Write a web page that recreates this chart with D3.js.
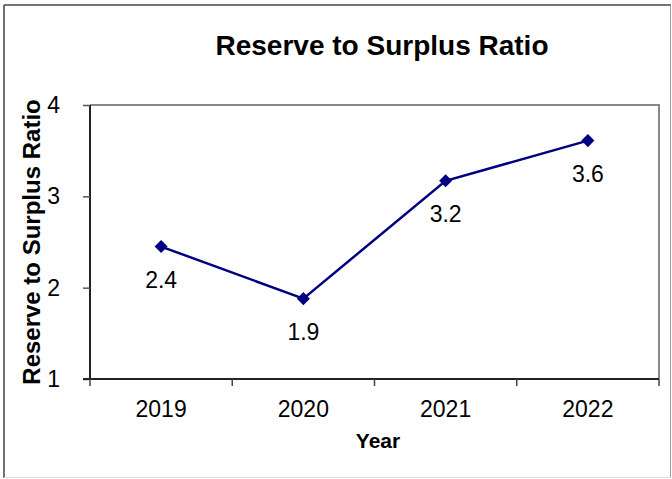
<!DOCTYPE html>
<html>
<head>
<meta charset="utf-8">
<script src="https://cdn.jsdelivr.net/npm/d3@7"></script>
<style>
  body { margin: 0; background: #fff; }
  text { font-family: "Liberation Sans", Arial, sans-serif; fill: #000; }
</style>
</head>
<body>
<script>
// chart data
var years = ["2019", "2020", "2021", "2022"];
var ratios = [2.45, 1.88, 3.17, 3.61];
var ratioLabels = ["2.4", "1.9", "3.2", "3.6"];
var yTicks = [1, 2, 3, 4];

var width = 672,
    height = 479;

// plot area
var plotLeft = 90, plotRight = 659, plotTop = 105, plotBottom = 379;

var svg = d3.select("body")
      .append("svg")
      .attr("width", width)
      .attr("height", height);

// outer frame
svg.append("line").attr("x1", 4).attr("y1", 5).attr("x2", 4).attr("y2", 478)
    .attr("stroke", "#444").attr("stroke-width", 1.5);
svg.append("line").attr("x1", 4).attr("y1", 5).attr("x2", 671).attr("y2", 5)
    .attr("stroke", "#444").attr("stroke-width", 1.5);
svg.append("line").attr("x1", 670.5).attr("y1", 5).attr("x2", 670.5).attr("y2", 478)
    .attr("stroke", "#999").attr("stroke-width", 1);
svg.append("line").attr("x1", 4).attr("y1", 477.5).attr("x2", 671).attr("y2", 477.5)
    .attr("stroke", "#ddd").attr("stroke-width", 1);

//scales
var x = d3.scaleBand()
      .domain(years)
      .range([plotLeft, plotRight]);

var y = d3.scaleLinear()
      .domain([1, 4])
      .range([plotBottom, plotTop]);

// plot border (top + right)
svg.append("path")
    .attr("d", "M" + plotLeft + "," + plotTop + "H" + plotRight + "V" + plotBottom)
    .attr("fill", "none")
    .attr("stroke", "#888")
    .attr("stroke-width", 2);

// y axis
var yAxis = svg.append("g")
      .attr("transform", "translate(" + plotLeft + ",0)")
      .call(d3.axisLeft(y).tickValues(yTicks).tickSize(7).tickPadding(23).tickFormat(d3.format("d")));
yAxis.select(".domain").attr("stroke", "#222").attr("stroke-width", 2).attr("d", "M0," + plotTop + "V" + plotBottom);
yAxis.selectAll(".tick line").attr("stroke", "#555").attr("stroke-width", 1.5);
yAxis.selectAll(".tick text")
    .style("font-family", "Liberation Sans, Arial, sans-serif")
    .style("font-size", "23px")
    .attr("fill", "#000");

// x axis, ticks at category boundaries
var xAxis = svg.append("g")
      .attr("transform", "translate(0," + plotBottom + ")");
xAxis.append("line")
    .attr("x1", plotLeft - 7).attr("x2", plotRight)
    .attr("stroke", "#222").attr("stroke-width", 2);
var bounds = years.map(function(d) { return x(d); }).concat([x(years[years.length - 1]) + x.bandwidth()]);
xAxis.selectAll(".xtick")
    .data(bounds)
    .enter()
    .append("line")
    .attr("class", "xtick")
    .attr("x1", function(d) { return d; })
    .attr("x2", function(d) { return d; })
    .attr("y1", 0).attr("y2", 7)
    .attr("stroke", "#444").attr("stroke-width", 1.5);
xAxis.selectAll(".xlabel")
    .data(years)
    .enter()
    .append("text")
    .attr("class", "xlabel")
    .attr("x", function(d) { return x(d) + x.bandwidth() / 2; })
    .attr("y", 38)
    .attr("text-anchor", "middle")
    .style("font-size", "23px")
    .text(function(d) { return d; });

// line
var line = d3.line()
      .x(function(d, i) { return x(years[i]) + x.bandwidth() / 2; })
      .y(function(d) { return y(d); });

svg.append("path")
    .datum(ratios)
    .attr("d", line)
    .attr("fill", "none")
    .attr("stroke", "#000080")
    .attr("stroke-width", 2.5);

// diamond markers
svg.selectAll(".marker")
    .data(ratios)
    .enter()
    .append("path")
    .attr("class", "marker")
    .attr("d", d3.symbol().type(d3.symbolSquare).size(85))
    .attr("transform", function(d, i) {
      return "translate(" + (x(years[i]) + x.bandwidth() / 2) + "," + y(d) + ") rotate(45)";
    })
    .attr("fill", "#000080");

// value labels
svg.selectAll(".vlabel")
    .data(ratios)
    .enter()
    .append("text")
    .attr("class", "vlabel")
    .attr("x", function(d, i) { return x(years[i]) + x.bandwidth() / 2; })
    .attr("y", function(d) { return y(d) + 41; })
    .attr("text-anchor", "middle")
    .style("font-size", "23px")
    .text(function(d, i) { return ratioLabels[i]; });

// titles
svg.append("text")
    .attr("x", 382)
    .attr("y", 55)
    .attr("text-anchor", "middle")
    .style("font-size", "28px")
    .style("font-weight", "bold")
    .text("Reserve to Surplus Ratio");

svg.append("text")
    .attr("x", 378)
    .attr("y", 448)
    .attr("text-anchor", "middle")
    .style("font-size", "21px")
    .style("font-weight", "bold")
    .text("Year");

svg.append("text")
    .attr("transform", "translate(40," + (plotTop + plotBottom) / 2 + ") rotate(-90)")
    .attr("text-anchor", "middle")
    .style("font-size", "24px")
    .style("font-weight", "bold")
    .text("Reserve to Surplus Ratio");
</script>
</body>
</html>
